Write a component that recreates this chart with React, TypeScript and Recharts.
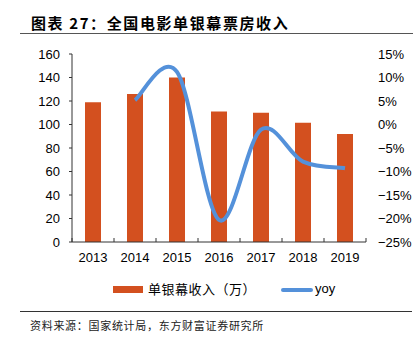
import React from 'react';
import { ComposedChart, Bar, Line, XAxis, YAxis, Legend } from 'recharts';

const years = ['2013', '2014', '2015', '2016', '2017', '2018', '2019'];
const revenuePerScreen = [119, 126, 140, 111, 110, 101.5, 92];
const yoy: (number | null)[] = [null, 5.2, 11.2, -20.3, -1.1, -7.9, -9.3];
const leftTicks = [0, 20, 40, 60, 80, 100, 120, 140, 160];
const rightTicks = [-25, -20, -15, -10, -5, 0, 5, 10, 15];

const title = '图表 27：全国电影单银幕票房收入';
const source = '资料来源：国家统计局，东方财富证券研究所';
const barName = '单银幕收入（万）';
const lineName = 'yoy';

const data = years.map((y, i) => ({ year: y, rev: revenuePerScreen[i], yoy: yoy[i] }));

const BAR_COLOR = '#D3501F';
const LINE_COLOR = '#5491DA';
const AXIS_COLOR = '#333';
const FONT = 'Liberation Sans, Arial, sans-serif';
const CJK = '"Noto Sans CJK SC", sans-serif';
const X_GAP = 11;

// Catmull-Rom style smoothing (like Excel's smoothed line)
const smoothCurve = (context: any) => {
  let pts: number[][] = [];
  return {
    areaStart() {},
    areaEnd() {},
    lineStart() { pts = []; },
    point(x: number, y: number) { pts.push([+x, +y]); },
    lineEnd() {
      if (!pts.length) return;
      context.moveTo(pts[0][0], pts[0][1]);
      for (let i = 0; i < pts.length - 1; i++) {
        const p0 = pts[i - 1] || pts[i];
        const p1 = pts[i];
        const p2 = pts[i + 1];
        const p3 = pts[i + 2] || p2;
        const c1x = p1[0] + (p2[0] - p0[0]) / 6;
        const c1y = p1[1] + (p2[1] - p0[1]) / 6;
        const c2x = p2[0] - (p3[0] - p1[0]) / 6;
        const c2y = p2[1] - (p3[1] - p1[1]) / 6;
        context.bezierCurveTo(c1x, c1y, c2x, c2y, p2[0], p2[1]);
      }
    },
  };
};

const XTick = (props: any) => {
  const { x, y, payload } = props;
  const half = payload && payload.offset ? payload.offset : 21;
  const axisY = y - X_GAP;
  const isLast = payload.value === years[years.length - 1];
  return (
    <g>
      <line x1={x - half} x2={x - half} y1={axisY} y2={axisY - 4} stroke={AXIS_COLOR} strokeWidth={1} />
      {isLast && <line x1={x + half} x2={x + half} y1={axisY} y2={axisY - 4} stroke={AXIS_COLOR} strokeWidth={1} />}
      <text x={x} y={y} dy="0.71em" textAnchor="middle" fill="#000" fontSize={13} fontFamily={FONT}>
        {payload.value}
      </text>
    </g>
  );
};

const LegendContent = () => (
  <div style={{ position: 'relative', width: 418, height: 16 }}>
    <div style={{ position: 'absolute', left: 113, top: 5, width: 30, height: 7, background: BAR_COLOR }} />
    <div style={{ position: 'absolute', left: 148, top: 0, fontFamily: CJK, fontSize: 13, lineHeight: '16px', color: '#000', whiteSpace: 'nowrap', letterSpacing: 0.5 }}>{barName}</div>
    <div style={{ position: 'absolute', left: 281, top: 7, width: 32, height: 4, borderRadius: 2, background: LINE_COLOR }} />
    <div style={{ position: 'absolute', left: 315, top: 0, fontFamily: FONT, fontSize: 13, lineHeight: '16px', color: '#000' }}>{lineName}</div>
  </div>
);

export default function App() {
  return (
    <div style={{ position: 'absolute', left: 0, top: 0, width: 418, height: 346, background: '#fff' }}>
      <div style={{ position: 'absolute', left: 31, top: 14, fontFamily: CJK, fontWeight: 700, fontSize: 15, lineHeight: '18px', letterSpacing: 1.6, color: '#000', whiteSpace: 'nowrap' }}>{title}</div>
      <div style={{ position: 'absolute', left: 20, top: 33, width: 393, height: 1, background: '#555' }} />
      <ComposedChart width={418} height={346} data={data} margin={{ top: 54, right: 0, bottom: 74, left: 0 }}>
        <XAxis dataKey="year" height={30} axisLine={{ stroke: AXIS_COLOR }} tickLine={false} tickSize={0} tickMargin={X_GAP} tick={<XTick />} interval={0} />
        <YAxis yAxisId="left" width={72} domain={[0, 160]} ticks={leftTicks} axisLine={{ stroke: AXIS_COLOR }} tickLine={{ stroke: AXIS_COLOR }} tickSize={3} tickMargin={9} tick={{ fill: '#000', fontSize: 13, fontFamily: FONT }} interval={0} />
        <YAxis yAxisId="right" orientation="right" width={52} domain={[-25, 15]} ticks={rightTicks} axisLine={false} tickLine={false} tickSize={0} tickMargin={12} tick={{ fill: '#000', fontSize: 13, fontFamily: FONT }} tickFormatter={(v: number) => `${v < 0 ? '\u2212' + Math.abs(v) : v}%`} interval={0} />
        <Legend verticalAlign="middle" layout="horizontal" content={<LegendContent />} wrapperStyle={{ top: 281, left: 0, width: 418 }} />
        <Bar yAxisId="left" dataKey="rev" name={barName} fill={BAR_COLOR} barSize={16} isAnimationActive={false} />
        <Line yAxisId="right" dataKey="yoy" name={lineName} type={smoothCurve as any} stroke={LINE_COLOR} strokeWidth={4} dot={false} isAnimationActive={false} />
      </ComposedChart>
      <div style={{ position: 'absolute', left: 20, top: 311, width: 392, height: 1, background: '#333' }} />
      <div style={{ position: 'absolute', left: 30, top: 318, fontFamily: CJK, fontSize: 11, lineHeight: '14px', letterSpacing: 0.7, color: '#222', whiteSpace: 'nowrap' }}>{source}</div>
    </div>
  );
}
